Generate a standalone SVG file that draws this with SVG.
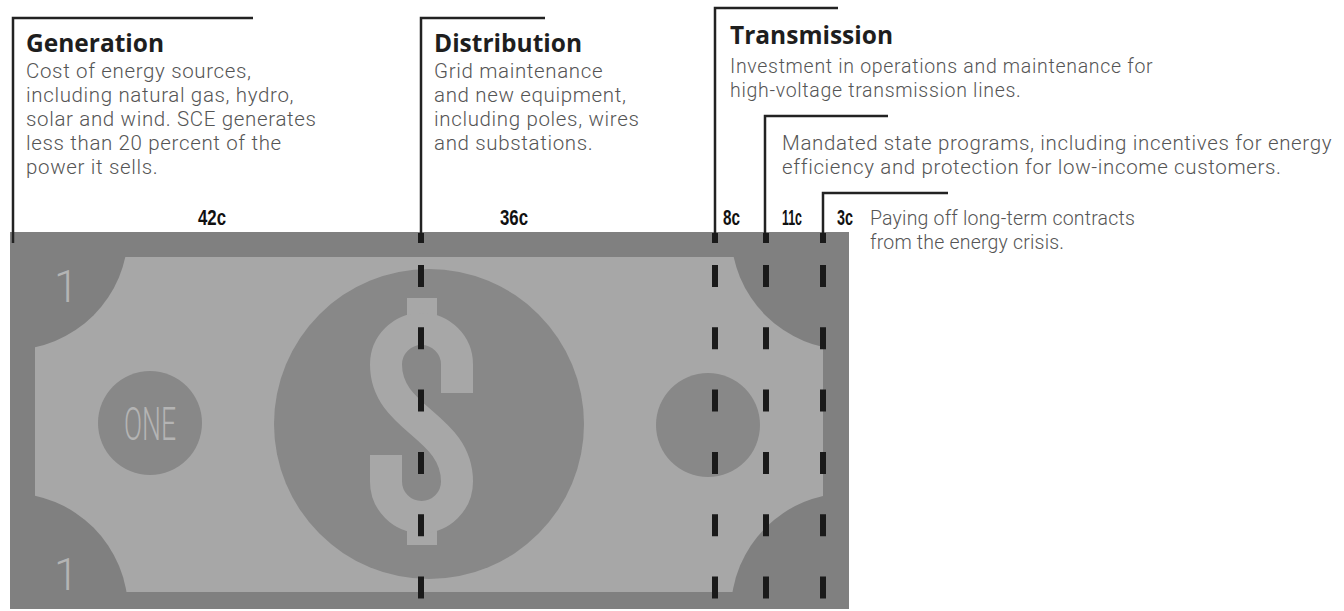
<svg xmlns="http://www.w3.org/2000/svg" width="1344" height="611" viewBox="0 0 1344 611">
<defs>
<style>
.title{font-family:"Open Sans","Liberation Sans",sans-serif;font-weight:700;font-size:24.5px;fill:#1e1e1e}
.body{font-family:Roboto,"Liberation Sans",sans-serif;font-weight:300;font-size:20.5px;fill:#555;letter-spacing:0.65px}
.small{font-size:19.5px;letter-spacing:0.7px}
.tight{letter-spacing:0.2px}
.num{font-family:"Liberation Sans","DejaVu Sans",sans-serif;font-weight:700;font-size:22px;fill:#111}
.lead{stroke:#222;stroke-width:2.5;fill:none}
.dash{stroke:#1a1a1a;stroke-width:6;stroke-dasharray:22 40.3;fill:none}
.cap{fill:#1a1a1a}
.dark{fill:#808080}
.circ{fill:#888888}
.light{fill:#a7a7a7}
.mark{font-family:Roboto,"Liberation Sans",sans-serif;font-weight:300;fill:#b4b4b4}
</style>
<clipPath id="inner"><rect x="35" y="257" width="788" height="335"/></clipPath>
</defs>

<g id="bill">
<rect class="dark" x="10" y="232" width="839" height="377"/>
<rect class="light" x="35" y="257" width="788" height="335"/>
<g clip-path="url(#inner)">
<circle class="dark" cx="10" cy="232" r="118"/>
<circle class="dark" cx="849" cy="232" r="118"/>
<circle class="dark" cx="10" cy="611" r="118"/>
<circle class="dark" cx="849" cy="611" r="118"/>
</g>
<circle class="circ" cx="150" cy="423" r="52"/>
<circle class="circ" cx="708" cy="425" r="52"/>
<circle class="circ" cx="429" cy="424" r="155"/>
<rect class="light" x="407" y="298" width="30" height="22"/>
<rect class="light" x="407" y="522" width="30" height="23"/>
<path d="M457,393 V364.5 A35.5,35.5 0 0 0 386,364.5 C386,420 457,425 457,481.5 A35.5,35.5 0 0 1 386,481.5 V455" fill="none" stroke="#a7a7a7" stroke-width="32"/>
<text class="mark" x="150" y="440" font-size="46" text-anchor="middle" textLength="52" lengthAdjust="spacingAndGlyphs">ONE</text>
<text class="mark" x="54" y="302" font-size="44">1</text>
<text class="mark" x="54" y="590" font-size="44">1</text>
</g>

<g id="connectors">
<path class="lead" d="M253,18 H13 V243"/>
<path class="lead" d="M545,18 H421 V243"/>
<path class="lead" d="M838,8 H715 V243"/>
<path class="lead" d="M888,116 H765 V243"/>
<path class="lead" d="M948,193 H823 V243"/>
<rect class="cap" x="418" y="233" width="6" height="10"/>
<rect class="cap" x="712" y="233" width="6" height="10"/>
<rect class="cap" x="763" y="233" width="6" height="10"/>
<rect class="cap" x="820" y="233" width="6" height="10"/>
<line class="dash" x1="421" y1="265" x2="421" y2="611"/>
<line class="dash" x1="715" y1="265" x2="715" y2="611"/>
<line class="dash" x1="766" y1="265" x2="766" y2="611"/>
<line class="dash" x1="823" y1="265" x2="823" y2="611"/>
</g>

<g id="generation">
<text class="title" x="26" y="52">Generation</text>
<text class="body" x="26" y="78"><tspan x="26">Cost of energy sources,</tspan><tspan x="26" dy="24">including natural gas, hydro,</tspan><tspan x="26" dy="24">solar and wind. SCE generates</tspan><tspan x="26" dy="24">less than 20 percent of the</tspan><tspan x="26" dy="24">power it sells.</tspan></text>
<text class="num" x="198" y="225" textLength="28" lengthAdjust="spacingAndGlyphs">42c</text>
</g>

<g id="distribution">
<text class="title" x="434" y="52">Distribution</text>
<text class="body" x="434" y="78"><tspan x="434">Grid maintenance</tspan><tspan x="434" dy="24">and new equipment,</tspan><tspan x="434" dy="24">including poles, wires</tspan><tspan x="434" dy="24">and substations.</tspan></text>
<text class="num" x="500" y="225" textLength="28" lengthAdjust="spacingAndGlyphs">36c</text>
</g>

<g id="transmission">
<text class="title" x="730" y="44">Transmission</text>
<text class="body small" x="730" y="73"><tspan x="730">Investment in operations and maintenance for</tspan><tspan x="730" dy="23.5">high-voltage transmission lines.</tspan></text>
<text class="num" x="723" y="225" textLength="17" lengthAdjust="spacingAndGlyphs">8c</text>
</g>

<g id="mandated">
<text class="body" x="782" y="150"><tspan x="782">Mandated state programs, including incentives for energy</tspan><tspan x="782" dy="24">efficiency and protection for low-income customers.</tspan></text>
<text class="num" x="782" y="225" textLength="20" lengthAdjust="spacingAndGlyphs">11c</text>
</g>

<g id="contracts">
<text class="num" x="837" y="225" textLength="16" lengthAdjust="spacingAndGlyphs">3c</text>
<text class="body small tight" x="870" y="225"><tspan x="870">Paying off long-term contracts</tspan><tspan x="870" dy="23.5">from the energy crisis.</tspan></text>
</g>
</svg>
